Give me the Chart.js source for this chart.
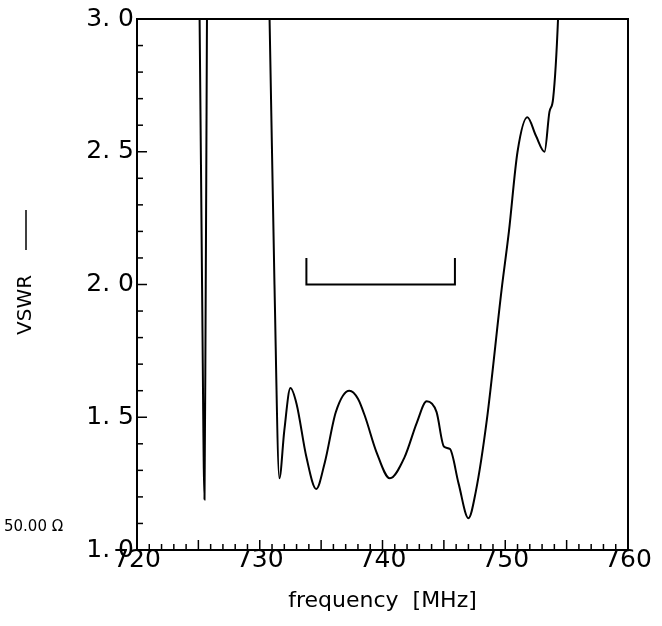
<!DOCTYPE html>
<html>
<head>
<meta charset="utf-8">
<script src="https://cdn.jsdelivr.net/npm/chart.js@4"></script>
<style>
  html, body { margin: 0; background: #fff; }
  #wrap { width: 662px; height: 626px; }
</style>
</head>
<body>
<div id="wrap"><canvas id="c"></canvas></div>
<script>
const freq = [724.9, 725.1, 725.3, 725.5, 725.6, 725.8, 730.5, 730.8, 731.2, 731.6, 732.0, 732.5, 733.0, 733.8, 734.6, 735.3, 736.2, 737.3, 738.0, 738.6, 739.5, 740.6, 741.8, 742.8, 743.6, 744.4, 745.0, 745.5, 746.2, 747.0, 747.6, 748.5, 749.7, 750.3, 751.0, 751.8, 752.5, 753.2, 753.6, 753.9, 754.3, 754.5]
const vswr = [3.6, 3.0, 2.0, 1.19, 2.0, 3.6, 3.6, 3.0, 2.0, 1.27, 1.45, 1.61, 1.55, 1.35, 1.23, 1.33, 1.52, 1.60, 1.57, 1.50, 1.37, 1.27, 1.35, 1.48, 1.56, 1.52, 1.39, 1.38, 1.25, 1.12, 1.22, 1.49, 1.98, 2.2, 2.5, 2.63, 2.56, 2.5, 2.65, 2.7, 3.0, 3.3]
const bracketX = [733.8, 733.8, 745.9, 745.9]
const bracketY = [2.1, 2.0, 2.0, 2.1]
const xTicks = [720, 730, 740, 750, 760]
const yTicks = [1.0, 1.5, 2.0, 2.5, 3.0]

const font = "'DejaVu Sans', sans-serif"

const extras = {
  id: "extras",
  afterDraw(chart) {
    const { ctx, chartArea: a, scales } = chart
    ctx.save()
    ctx.strokeStyle = "#000"
    ctx.lineWidth = 2
    ctx.strokeRect(a.left, a.top, a.right - a.left, a.bottom - a.top)
    ctx.lineWidth = 1.5
    for (let f = 720; f <= 760; f++) {
      const x = scales.x.getPixelForValue(f)
      const len = f % 5 === 0 ? 10 : 6
      ctx.beginPath(); ctx.moveTo(x, a.bottom); ctx.lineTo(x, a.bottom - len); ctx.stroke()
    }
    for (let i = 0; i <= 20; i++) {
      const v = 1 + i * 0.1
      const y = scales.y.getPixelForValue(v)
      const len = i % 5 === 0 ? 10 : 6
      ctx.beginPath(); ctx.moveTo(a.left, y); ctx.lineTo(a.left + len, y); ctx.stroke()
    }
    ctx.fillStyle = "#000"
    ctx.font = "25px " + font
    ctx.textAlign = "right"; ctx.textBaseline = "middle"
    yTicks.forEach(v => {
      const s = v.toFixed(1).replace(".", ". ")
      ctx.fillText(s, a.left - 3, scales.y.getPixelForValue(v))
    })
    ctx.textAlign = "center"; ctx.textBaseline = "top"
    xTicks.forEach(v => ctx.fillText(String(v), scales.x.getPixelForValue(v), a.bottom - 2))
    ctx.font = "22px " + font
    ctx.fillText("frequency  [MHz]", (a.left + a.right) / 2, a.bottom + 40)
    ctx.font = "15px " + font
    ctx.textAlign = "left"; ctx.textBaseline = "middle"
    ctx.fillText("50.00 \u03a9", 4, 527)
    ctx.translate(26, 335)
    ctx.rotate(-Math.PI / 2)
    ctx.font = "20px " + font
    ctx.textAlign = "left"
    ctx.fillText("VSWR", 0, 0)
    ctx.lineWidth = 1.5
    ctx.beginPath(); ctx.moveTo(85, 0); ctx.lineTo(125, 0); ctx.stroke()
    ctx.restore()
  }
}

new Chart(document.getElementById("c"), {
  type: "scatter",
  data: {
    datasets: [
      {
        data: freq.map((f, i) => ({ x: f, y: vswr[i] })),
        showLine: true, borderColor: "#000", borderWidth: 2,
        pointRadius: 0, cubicInterpolationMode: "monotone"
      },
      {
        data: bracketX.map((f, i) => ({ x: f, y: bracketY[i] })),
        showLine: true, borderColor: "#000", borderWidth: 2,
        pointRadius: 0, tension: 0
      }
    ]
  },
  options: {
    responsive: true, maintainAspectRatio: false, animation: false,
    layout: { padding: { left: 137, right: 34, top: 19, bottom: 76 } },
    plugins: { legend: { display: false }, tooltip: { enabled: false } },
    scales: {
      x: { min: 720, max: 760, display: false },
      y: { min: 1, max: 3, display: false }
    }
  },
  plugins: [extras]
})
</script>
</body>
</html>
